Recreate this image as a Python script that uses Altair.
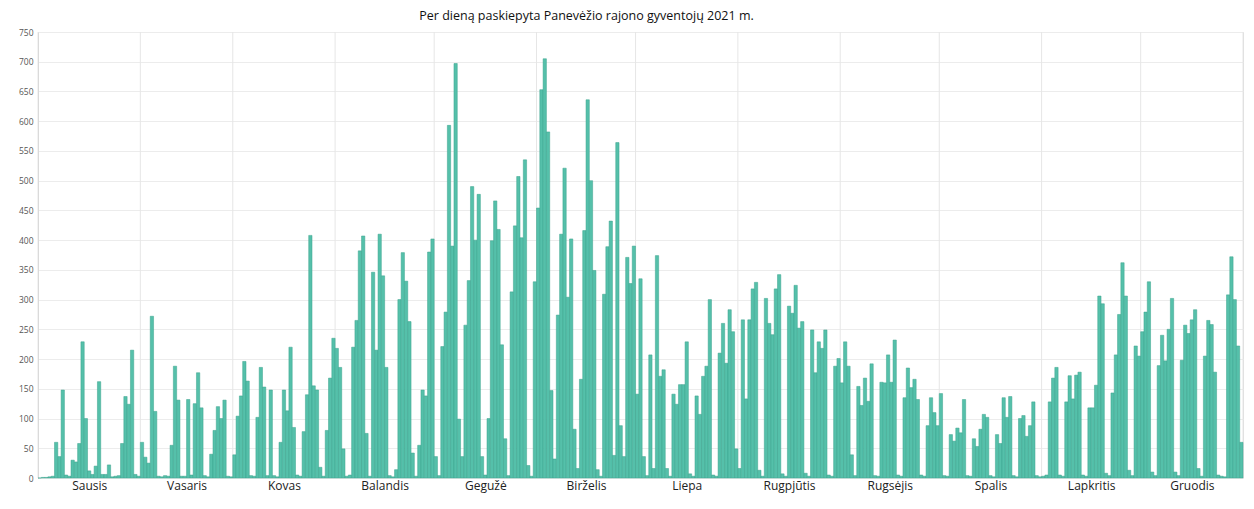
import json
import altair as alt
import pandas as pd

months = ["Sausis", "Vasaris", "Kovas", "Balandis", "Gegužė", "Birželis",
          "Liepa", "Rugpjūtis", "Rugsėjis", "Spalis", "Lapkritis", "Gruodis"]

jan = [0, 1, 1, 2, 3, 60, 36, 148, 5, 3, 30, 27, 58, 229, 100, 12, 6, 20, 162, 6,
       6, 22, 2, 3, 4, 58, 137, 124, 215, 6, 3]
feb = [60, 35, 25, 272, 112, 3, 2, 4, 3, 55, 188, 131, 3, 3, 132, 5, 125, 177, 118, 4,
       2, 40, 80, 120, 100, 131, 3, 2]
mar = [39, 104, 138, 196, 163, 4, 3, 102, 186, 153, 4, 148, 4, 2, 60, 148, 113, 220, 85, 5,
       3, 78, 140, 408, 155, 148, 18, 3, 80, 168, 235]
apr = [218, 186, 49, 3, 5, 220, 265, 382, 407, 75, 3, 346, 215, 410, 340, 186, 4, 2, 14, 300,
       379, 331, 263, 42, 3, 55, 148, 138, 380, 402]
may = [36, 4, 221, 279, 593, 390, 697, 99, 36, 257, 332, 490, 400, 477, 36, 5, 100, 399, 466, 418,
       224, 66, 4, 313, 424, 507, 404, 535, 21, 3, 330]
jun = [454, 653, 705, 582, 147, 32, 274, 410, 521, 304, 402, 82, 16, 166, 416, 636, 500, 349, 14, 3,
       309, 389, 432, 38, 564, 88, 36, 371, 327, 390]
jul = [141, 335, 36, 4, 207, 16, 374, 171, 182, 16, 3, 141, 124, 157, 157, 229, 7, 3, 138, 107,
       171, 188, 300, 5, 3, 210, 260, 193, 283, 246, 49]
aug = [16, 266, 133, 266, 318, 329, 13, 3, 302, 260, 241, 318, 342, 7, 3, 289, 277, 324, 252, 263,
       8, 3, 249, 177, 229, 218, 249, 5, 3, 188, 201]
sep = [160, 229, 188, 39, 4, 154, 122, 168, 129, 192, 4, 3, 161, 160, 207, 161, 232, 5, 3, 135,
       185, 152, 166, 132, 5, 3, 88, 135, 110, 88]
oct_ = [142, 4, 3, 73, 62, 84, 76, 132, 4, 3, 66, 53, 82, 107, 102, 4, 2, 73, 58, 135,
        102, 137, 4, 2, 100, 105, 70, 88, 128, 4, 2]
nov = [3, 5, 128, 168, 186, 5, 3, 128, 172, 133, 173, 178, 5, 3, 118, 118, 156, 306, 293, 8,
       4, 143, 207, 275, 362, 306, 13, 4, 222, 205]
dec = [246, 279, 330, 10, 4, 189, 240, 197, 250, 302, 10, 4, 198, 257, 243, 266, 283, 16, 3, 205,
       265, 258, 178, 5, 3, 2, 308, 372, 300, 222, 60]

month_data = [jan, feb, mar, apr, may, jun, jul, aug, sep, oct_, nov, dec]
values = [v for m in month_data for v in m]
df = pd.DataFrame({"day": list(range(len(values))), "value": values})

bounds = [0]
for m in month_data:
    bounds.append(bounds[-1] + len(m))
mids = [(bounds[i] + bounds[i + 1]) / 2 for i in range(12)]

label_expr = (f"{json.dumps(months, ensure_ascii=False)}"
              f"[indexof({json.dumps(mids)}, datum.value)]")

xscale = alt.Scale(domain=[0, bounds[-1]], nice=False, zero=False)
x_axis = alt.Axis(values=mids, labelExpr=label_expr, grid=False, ticks=False,
                  domain=False, title=None, labelFontSize=12, labelColor="#222",
                  labelFont="Open Sans", labelPadding=2)

rules = alt.Chart(pd.DataFrame({"b": bounds})).mark_rule(
    color="#e6e6e6", strokeWidth=1
).encode(x=alt.X("b:Q", scale=xscale, axis=x_axis))

bars = alt.Chart(df).transform_calculate(
    end="datum.day + 1"
).mark_bar(color="#55c0aa", stroke="#3ba38d", strokeWidth=0.5).encode(
    x=alt.X("day:Q", scale=xscale, axis=x_axis),
    x2="end:Q",
    y=alt.Y("value:Q", scale=alt.Scale(domain=[0, 750], nice=False),
            axis=alt.Axis(values=list(range(0, 751, 50)), title=None, grid=True,
                          gridColor="#ececec", ticks=False, labelFontSize=8.5,
                          labelColor="#555", labelFont="Open Sans", labelPadding=5,
                          domainColor="#cfcfcf")),
    y2=alt.datum(0),
)

chart = alt.layer(rules, bars).properties(
    width=1205,
    height=446,
    title=alt.TitleParams("Per dieną paskiepyta Panevėžio rajono gyventojų 2021 m.",
                          fontSize=12.5, font="Open Sans", fontWeight="normal",
                          color="#111", anchor="middle", dx=-54, offset=6),
    autosize=alt.AutoSizeParams(type="none"),
    padding={"left": 30, "top": 24, "right": 3, "bottom": 19},
).configure_view(stroke=None).configure(background="white")

chart.save("out.html", embed_options={"renderer": "svg", "actions": False})
